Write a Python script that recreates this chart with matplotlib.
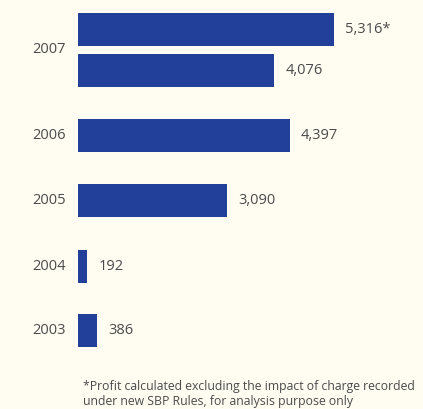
import matplotlib
matplotlib.use("Agg")
import matplotlib.pyplot as plt

plt.rcParams['font.family'] = ['Open Sans', 'DejaVu Sans']

# 데이터
years = ["2007", "2006", "2005", "2004", "2003"]
values = [5316, 4076, 4397, 3090, 192, 386]
value_labels = ["5,316*", "4,076", "4,397", "3,090", "192", "386"]
footnote = ("*Profit calculated excluding the impact of charge recorded\n"
            "under new SBP Rules, for analysis purpose only")

# 레이아웃
positions = [0, 0.63, 1.63, 2.63, 3.65, 4.63]
year_pos = [0.315, 1.63, 2.63, 3.65, 4.63]
bar_color = "#22409a"
bg = "#fffdf1"
text_color = "#4a4a4a"

fig = plt.figure(figsize=(4.23, 4.09), dpi=100)
fig.patch.set_facecolor(bg)
ax = fig.add_axes([0, 0, 1, 1])
ax.set_facecolor(bg)

ax.barh(positions, values, height=0.505, left=0, color=bar_color)
for p, v, lab in zip(positions, values, value_labels):
    ax.text(v + 235, p, lab, ha="left", va="center", size=10.5, color=text_color)
for p, y in zip(year_pos, years):
    ax.text(-255, p, y, ha="right", va="center", size=10.5, color=text_color)

ax.set_xlim(-1620, 7163)
ax.set_ylim(5.84, -0.451)
ax.axis("off")

fig.text(83 / 423, 1 - 380 / 409, footnote, ha="left", va="top", size=8.8,
         color=text_color, linespacing=1.18)

plt.savefig("out.png", dpi=100, facecolor=bg)
